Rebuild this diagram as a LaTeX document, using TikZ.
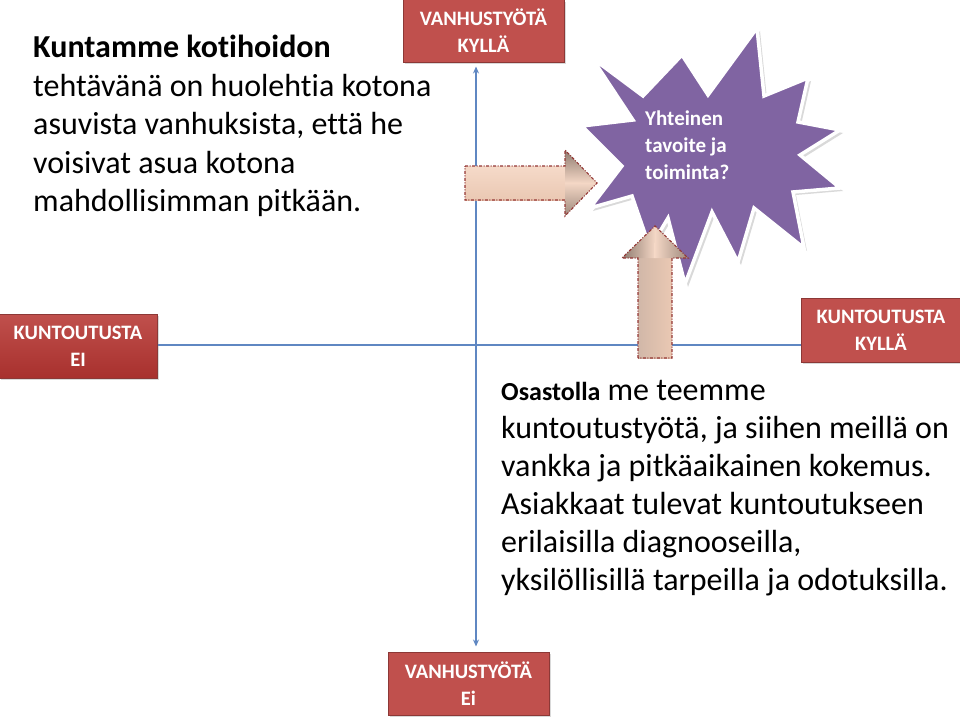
\documentclass[tikz,border=0pt]{standalone}
\usepackage{fontspec}
\setmainfont{Carlito}[Ligatures=NoCommon]
\usetikzlibrary{shadows,arrows.meta}
\definecolor{boxred}{HTML}{C0504D}
\definecolor{boxreddark}{HTML}{A8302D}
\definecolor{boxedge}{HTML}{8C3836}
\definecolor{axisblue}{HTML}{5F87C2}
\definecolor{starpurple}{HTML}{8064A2}
\definecolor{peach}{HTML}{F5D8C6}
\definecolor{peachmid}{HTML}{EAC8B3}
\definecolor{peachdark}{HTML}{8E7B70}
\definecolor{arrowedge}{HTML}{943634}
\begin{document}
\begin{tikzpicture}[x=1pt,y=-1pt,
  redbox/.style={draw=boxedge, line width=1pt, fill=boxred, text=white,
    font=\fontsize{20.5}{27}\selectfont\bfseries, align=center, inner sep=0pt,
    drop shadow={opacity=0.3, shadow xshift=2pt, shadow yshift=-2pt}},
  axisline/.style={draw=axisblue, line width=1.1pt},
  arrowoutline/.style={draw=arrowedge, line width=1.1pt, dash pattern=on 3pt off 1.5pt on 1pt off 1.5pt},
  bodytext/.style={anchor=north west, align=left, inner sep=0pt, text=black,
    font=\fontsize{32}{38.5}\selectfont}
]
\useasboundingbox (0,0) rectangle (960,717);

% boxes and axes
\coordinate (ax) at (476,345);
\node[redbox, minimum width=161pt, minimum height=62pt] (vtop) at (483.5,31) {VANHUSTYÖTÄ\\KYLLÄ};
\node[redbox, minimum width=161pt, minimum height=63pt] (vbot) at (468.5,683.5) {VANHUSTYÖTÄ\\Ei};
\node[redbox, minimum width=158pt, minimum height=64pt, shade, top color=boxred, bottom color=boxreddark] (kei) at (78,346) {KUNTOUTUSTA\\EI};
\node[redbox, minimum width=160pt, minimum height=64pt] (kkylla) at (881,330) {KUNTOUTUSTA\\KYLLÄ};

\draw[axisline] (kei.east |- ax) -- (kkylla.west |- ax);
\draw[axisline, {Stealth[length=7pt,width=6pt]}-{Stealth[length=7pt,width=6pt]}]
  ([yshift=-4pt]vtop.south -| ax) -- ([yshift=5pt]vbot.north -| ax);

% star
\draw[fill=starpurple, draw=white, line width=3.5pt, line join=miter,
  drop shadow={opacity=0.3, shadow xshift=3pt, shadow yshift=-3pt}]
  (592,58) -- (643,96) -- (682,55) -- (708,95) -- (757,28) -- (764,96)
  -- (808,78) -- (798,122) -- (840,130) -- (800,155) -- (840,188) -- (793,192)
  -- (804,248) -- (754,208) -- (738,262) -- (712,212) -- (685,284) -- (668,218)
  -- (650,248) -- (632,196) -- (590,208) -- (622,166) -- (582,126) -- (633,120) -- cycle;
\node[anchor=west, align=left, inner sep=0pt, text=white,
  font=\fontsize{21}{27}\selectfont\bfseries] (goal) at (645,145) {Yhteinen\\tavoite ja\\toiminta?};

% right block arrow
\shade[top color=peach!95!white, bottom color=peachmid] (465,166) rectangle (566,200);
\shade[top color=peachdark, bottom color=peach] (565,150) -- (597,183) -- (565,183.5) -- cycle;
\shade[top color=peach, bottom color=peachdark!85!peach] (565,182.5) -- (597,183) -- (565,216) -- cycle;
\draw[arrowoutline] (465,166) -- (565,166) -- (565,150) -- (597,183) -- (565,216)
  -- (565,200) -- (465,200) -- cycle;

% up block arrow
\shade[left color=peachdark!35!peach, middle color=peach, right color=peachmid] (638,257) rectangle (672,358);
\shade[left color=peachdark, right color=peach] (622,258) -- (655,226) -- (655.5,258) -- cycle;
\shade[left color=peach, right color=peachdark!85!peach] (654.5,258) -- (655,226) -- (688,258) -- cycle;
\draw[arrowoutline] (638,358) -- (638,258) -- (622,258) -- (655,226) -- (688,258)
  -- (672,258) -- (672,358) -- cycle;

% texts
\node[bodytext] (home) at (33,35) {\textbf{Kuntamme kotihoidon}\\tehtävänä on huolehtia kotona\\asuvista vanhuksista, että he\\voisivat asua kotona\\mahdollisimman pitkään.};
\node[bodytext, font=\fontsize{32}{38}\selectfont] (ward) at (501,380) {{\fontsize{26}{26}\selectfont\bfseries Osastolla} me teemme\\kuntoutustyötä, ja siihen meillä on\\vankka ja pitkäaikainen kokemus.\\Asiakkaat tulevat kuntoutukseen\\erilaisilla diagnooseilla,\\yksilöllisillä tarpeilla ja odotuksilla.};
\end{tikzpicture}
\end{document}
